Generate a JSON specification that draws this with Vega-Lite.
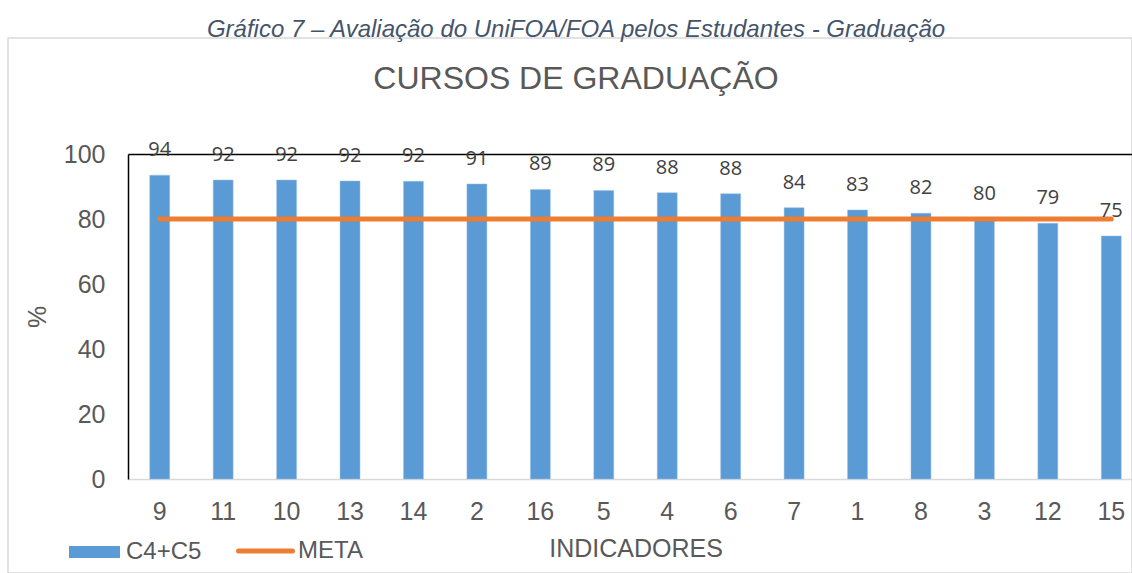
{
  "$schema": "https://vega.github.io/schema/vega-lite/v6.json",
  "width": 1124,
  "height": 535,
  "autosize": {"type": "none"},
  "padding": {"left": 8, "top": 38, "right": 0, "bottom": 0},
  "background": "#ffffff",
  "config": {
    "view": {"stroke": "#D9D9D9", "strokeWidth": 1.5},
    "font": "Liberation Sans"
  },
  "title": {
    "text": "Gráfico 7 – Avaliação do UniFOA/FOA pelos Estudantes - Graduação",
    "subtitle": "CURSOS DE GRADUAÇÃO",
    "anchor": "middle",
    "frame": "group",
    "orient": "top",
    "font": "Liberation Sans",
    "fontSize": 24,
    "fontStyle": "italic",
    "fontWeight": "normal",
    "color": "#44546A",
    "subtitleFont": "Liberation Sans",
    "subtitleFontSize": 32,
    "subtitleColor": "#595959",
    "subtitlePadding": 22,
    "offset": -57,
    "dx": 6
  },
  "data": {
    "values": [
      {"ind": "9", "val": 93.5, "meta": 80},
      {"ind": "11", "val": 92.0, "meta": 80},
      {"ind": "10", "val": 92.0, "meta": 80},
      {"ind": "13", "val": 91.7, "meta": 80},
      {"ind": "14", "val": 91.6, "meta": 80},
      {"ind": "2", "val": 90.8, "meta": 80},
      {"ind": "16", "val": 89.1, "meta": 80},
      {"ind": "5", "val": 88.8, "meta": 80},
      {"ind": "4", "val": 88.1, "meta": 80},
      {"ind": "6", "val": 87.8, "meta": 80},
      {"ind": "7", "val": 83.5, "meta": 80},
      {"ind": "1", "val": 82.8, "meta": 80},
      {"ind": "8", "val": 81.8, "meta": 80},
      {"ind": "3", "val": 80.0, "meta": 80},
      {"ind": "12", "val": 78.7, "meta": 80},
      {"ind": "15", "val": 74.8, "meta": 80}
    ]
  },
  "resolve": {"axis": {"x": "independent"}},
  "layer": [
    {
      "mark": {"type": "bar", "stroke": "#9DC3E6", "strokeWidth": 0.5},
      "encoding": {
        "x": {
          "field": "ind", "type": "nominal", "sort": null,
          "scale": {"range": [120, 1135], "paddingInner": 0.685, "paddingOuter": 0.3425},
          "axis": {
            "orient": "bottom", "offset": -94,
            "domainColor": "#D9D9D9", "domainWidth": 1.5,
            "ticks": false, "grid": false,
            "labelAngle": 0, "labelFontSize": 25, "labelColor": "#595959", "labelFont": "Liberation Sans",
            "labelPadding": 20,
            "title": "INDICADORES", "titleFontSize": 25, "titleFontWeight": "normal", "titleColor": "#595959",
            "titleFont": "Liberation Sans", "titleBaseline": "alphabetic", "titleY": 77
          }
        },
        "y": {
          "field": "val", "type": "quantitative",
          "scale": {"domain": [0, 100], "range": [441, 116], "nice": false},
          "axis": {
            "orient": "left", "offset": -120,
            "values": [0, 20, 40, 60, 80, 100],
            "domainColor": "#000000", "domainWidth": 1.5,
            "ticks": false, "grid": false,
            "labelFontSize": 25, "labelColor": "#595959", "labelFont": "Liberation Sans", "labelPadding": 23,
            "title": "%", "titleFontSize": 25, "titleFontWeight": "normal", "titleColor": "#595959",
            "titleFont": "Liberation Sans", "titleX": -91, "titleBaseline": "middle"
          }
        },
        "fill": {
          "datum": "C4+C5",
          "scale": {"range": ["#5B9BD5"]},
          "legend": {
            "orient": "none", "legendX": 61, "legendY": 488.5, "direction": "horizontal",
            "title": null, "padding": 0,
            "symbolType": "M-1,-0.235H1V0.235H-1Z", "symbolSize": 2601, "symbolStrokeWidth": 0,
            "labelFontSize": 24, "labelColor": "#595959", "labelFont": "Liberation Sans", "labelOffset": 6
          }
        }
      }
    },
    {
      "mark": {"type": "line", "strokeWidth": 5, "strokeCap": "round"},
      "encoding": {
        "x": {
          "field": "ind", "type": "nominal", "sort": null,
          "axis": {
            "orient": "top", "offset": -116,
            "domainColor": "#000000", "domainWidth": 1.5,
            "labels": false, "ticks": false, "grid": false, "title": null
          }
        },
        "y": {"field": "meta", "type": "quantitative"},
        "stroke": {
          "datum": "META",
          "scale": {"range": ["#ED7D31"]},
          "legend": {
            "orient": "none", "legendX": 228, "legendY": 483.5, "direction": "horizontal",
            "title": null, "padding": 0,
            "symbolType": "stroke", "symbolSize": 2916, "symbolStrokeWidth": 5,
            "labelFontSize": 24, "labelColor": "#595959", "labelFont": "Liberation Sans", "labelOffset": 3,
            "encode": {"symbols": {"update": {"strokeCap": {"value": "round"}}}}
          }
        }
      }
    },
    {
      "mark": {"type": "text", "dy": -25, "baseline": "middle", "font": "Open Sans", "fontSize": 20, "color": "#404040"},
      "encoding": {
        "x": {"field": "ind", "type": "nominal", "sort": null, "axis": null},
        "y": {"field": "val", "type": "quantitative"},
        "text": {"field": "val", "type": "quantitative", "format": ".0f"}
      }
    }
  ]
}
